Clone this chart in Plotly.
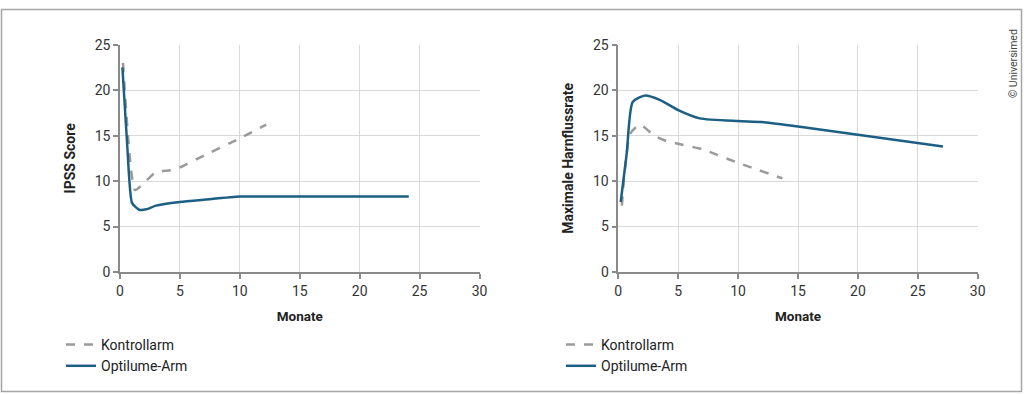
import plotly.graph_objects as go

# ---- Data ----
# Left panel: IPSS Score
ipss_ctrl_x = [0.25, 1.25, 2.0, 3.0, 4.2, 5.0, 7.0, 10.0, 12.2]
ipss_ctrl_y = [23.0, 9.0, 9.8, 11.0, 11.2, 11.5, 12.8, 14.7, 16.2]
ipss_opt_x = [0.2, 0.6, 1.0, 1.6, 2.2, 3.0, 5.0, 7.0, 10.0, 12.0, 24.1]
ipss_opt_y = [22.5, 14.0, 7.6, 6.85, 6.9, 7.3, 7.7, 7.95, 8.3, 8.3, 8.3]

# Right panel: Maximale Harnflussrate
qmax_ctrl_x = [0.3, 1.0, 1.8, 3.0, 4.0, 5.0, 7.0, 10.0, 13.7]
qmax_ctrl_y = [7.3, 15.2, 16.2, 15.0, 14.4, 14.1, 13.5, 12.0, 10.3]
qmax_opt_x = [0.2, 0.7, 1.2, 2.2, 3.5, 5.0, 6.8, 10.0, 12.0, 15.0, 20.0, 27.1]
qmax_opt_y = [7.7, 13.0, 18.7, 19.4, 18.9, 17.8, 16.9, 16.6, 16.5, 16.0, 15.1, 13.8]

series_names = ["Kontrollarm", "Optilume-Arm"]
x_ticks = [0, 5, 10, 15, 20, 25, 30]
y_ticks = [0, 5, 10, 15, 20, 25]
x_title = "Monate"
y_titles = ["IPSS Score", "Maximale Harnflussrate"]
copyright_text = "© Universimed"

# ---- Style ----
BLUE = "#1b5f84"
GREY = "#9a9a9a"
FONT = "Roboto"
W, H = 1024, 394

fig = go.Figure()

fig.add_trace(go.Scatter(x=ipss_ctrl_x, y=ipss_ctrl_y, mode="lines", name=series_names[0],
                         line=dict(color=GREY, width=2.5, dash="dash", shape="spline", smoothing=0.5),
                         xaxis="x", yaxis="y", legend="legend"))
fig.add_trace(go.Scatter(x=ipss_opt_x, y=ipss_opt_y, mode="lines", name=series_names[1],
                         line=dict(color=BLUE, width=2.5, shape="spline", smoothing=0.5),
                         xaxis="x", yaxis="y", legend="legend"))
fig.add_trace(go.Scatter(x=qmax_ctrl_x, y=qmax_ctrl_y, mode="lines", name=series_names[0],
                         line=dict(color=GREY, width=2.5, dash="dash", shape="spline", smoothing=0.6),
                         xaxis="x2", yaxis="y2", legend="legend2"))
fig.add_trace(go.Scatter(x=qmax_opt_x, y=qmax_opt_y, mode="lines", name=series_names[1],
                         line=dict(color=BLUE, width=2.5, shape="spline", smoothing=0.6),
                         xaxis="x2", yaxis="y2", legend="legend2"))

y0, y1 = (H - 272) / H, (H - 44.7) / H

def xax(domain, anchor):
    return dict(domain=domain, anchor=anchor, range=[0, 30], tickvals=x_ticks,
                showgrid=True, gridcolor="#d9d9d9", gridwidth=1,
                showline=True, linecolor="#8a8a8a", linewidth=1.5,
                ticks="outside", ticklen=5, tickcolor="#8a8a8a", tickwidth=1.5,
                zeroline=False, tickfont=dict(size=14, color="#333333", family=FONT),
                title=dict(text="<b>" + x_title + "</b>", standoff=14,
                           font=dict(size=13.5, color="#222222", family=FONT)),
                automargin=False, fixedrange=True)

def yax(anchor, title):
    return dict(domain=[y0, y1], anchor=anchor, range=[0, 25], tickvals=y_ticks,
                showgrid=True, gridcolor="#d9d9d9", gridwidth=1,
                showline=True, linecolor="#8a8a8a", linewidth=1.5,
                ticks="outside", ticklen=5, tickcolor="#8a8a8a", tickwidth=1.5,
                zeroline=False, tickfont=dict(size=14, color="#333333", family=FONT),
                title=dict(text="<b>" + title + "</b>", standoff=16,
                           font=dict(size=14, color="#222222", family=FONT)),
                automargin=False, fixedrange=True)

legend_common = dict(xanchor="left", yanchor="top", bgcolor="rgba(0,0,0,0)",
                     font=dict(size=14, color="#222222", family=FONT),
                     tracegroupgap=0, itemwidth=30)

fig.update_layout(
    width=W, height=H,
    margin=dict(l=0, r=0, t=0, b=0, pad=0, autoexpand=False),
    paper_bgcolor="white", plot_bgcolor="white",
    font=dict(family=FONT),
    xaxis=xax([120 / W, 479.5 / W], "y"),
    yaxis=yax("x", y_titles[0]),
    xaxis2=xax([618.3 / W, 977.7 / W], "y2"),
    yaxis2=yax("x2", y_titles[1]),
    legend=dict(x=61 / W, y=(H - 329) / H, **legend_common),
    legend2=dict(x=561 / W, y=(H - 329) / H, **legend_common),
    shapes=[dict(type="rect", xref="paper", yref="paper",
                 x0=1.5 / W, x1=1021.5 / W, y0=(H - 391.5) / H, y1=(H - 9.5) / H,
                 line=dict(color="#a5a5a5", width=1.5), fillcolor="rgba(0,0,0,0)", layer="below")],
    annotations=[dict(text=copyright_text, xref="paper", yref="paper",
                      x=1013 / W, y=(H - 64) / H, xanchor="center", yanchor="middle",
                      showarrow=False, textangle=-90,
                      font=dict(size=10.5, color="#444444", family=FONT))],
)

fig.write_html("out.html", config={"displayModeBar": False},
               post_script="document.body.style.margin='0';document.body.style.overflow='hidden';")
